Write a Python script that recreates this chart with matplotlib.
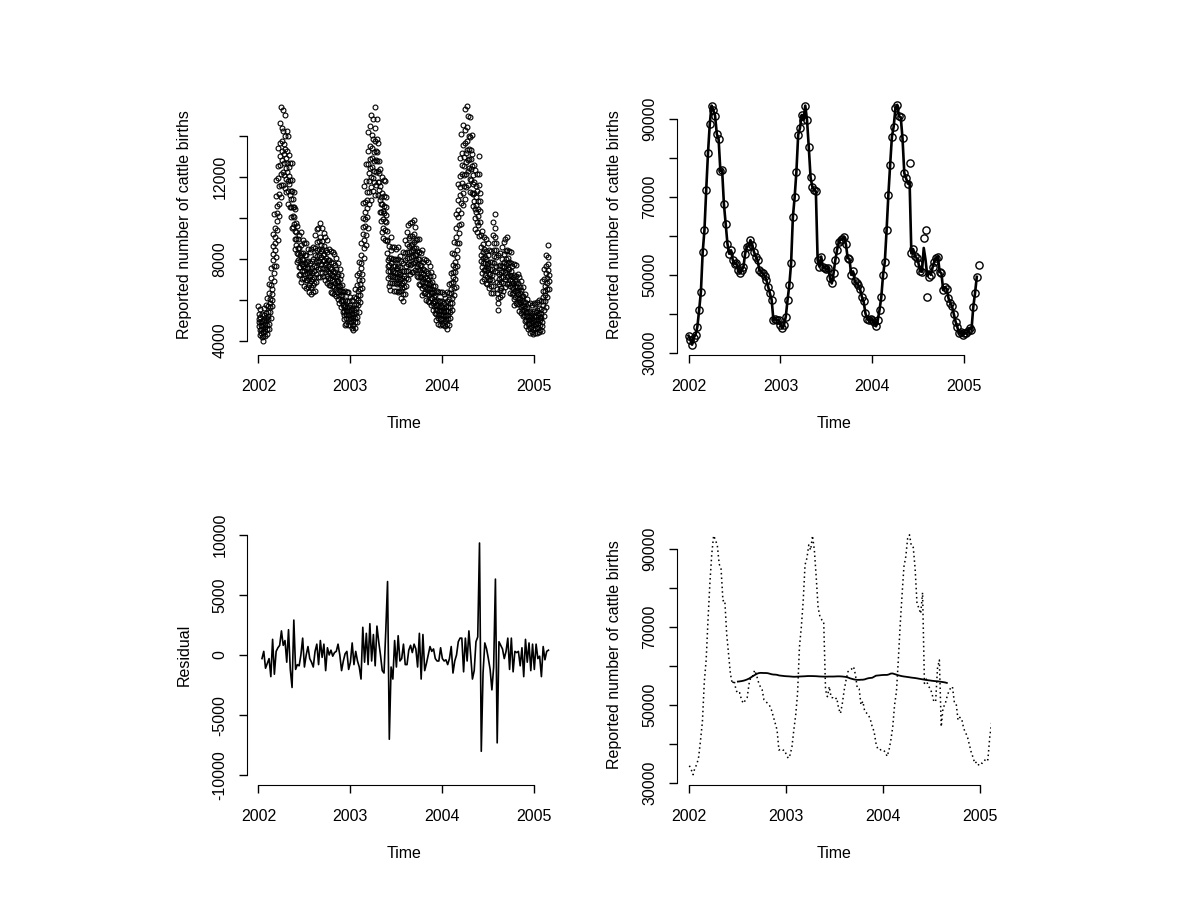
import numpy as np
import matplotlib
matplotlib.use("Agg")
import matplotlib.pyplot as plt

plt.rcParams['font.family'] = ['Liberation Sans', 'DejaVu Sans']

# weekly reported cattle births (thousands), weekly series from 2002 (freq 52)
weekly_k = [34.5, 33.5, 32.2, 34.0, 34.8, 36.8, 41.1, 45.8, 55.9, 61.6,
            71.9, 81.3, 88.7, 93.5, 92.4, 90.9, 86.2, 84.9, 76.8, 76.9,
            68.3, 63.2, 58.1, 55.5, 56.4, 53.9, 53.0, 53.2, 51.3, 50.5,
            51.3, 52.0, 55.5, 57.3, 57.5, 59.0, 57.7, 56.0, 54.8, 54.0,
            51.4, 50.9, 50.5, 49.9, 48.8, 47.1, 45.4, 43.7, 38.5, 38.8,
            38.5, 38.5, 37.3, 36.4, 37.3, 39.4, 43.7, 47.5, 53.1, 64.9,
            70.0, 76.6, 86.0, 87.7, 91.1, 89.8, 93.5, 89.8, 82.8, 75.1,
            72.7, 71.9, 71.5, 53.9, 52.2, 54.8, 52.0, 51.9, 51.5, 51.9,
            49.2, 47.9, 50.5, 53.9, 56.5, 58.6, 59.1, 59.3, 59.9, 57.9,
            54.4, 54.2, 50.1, 51.0, 48.4, 48.0, 47.5, 46.4, 44.5, 43.3,
            40.3, 38.8, 38.5, 38.7, 38.5, 38.0, 36.9, 38.5, 41.1, 44.4,
            50.1, 53.5, 61.6, 70.6, 78.3, 85.5, 88.1, 92.8, 93.7, 90.8,
            90.5, 85.1, 76.2, 74.9, 73.5, 78.9, 55.6, 56.7, 54.9, 54.4,
            53.1, 51.0, 50.9, 59.5, 61.6, 44.5, 49.5, 50.1, 52.0, 53.5,
            54.4, 54.8, 50.9, 50.5, 46.2, 46.9, 46.5, 44.1, 43.0, 42.0,
            40.1, 38.1, 36.7, 35.1, 35.5, 34.7, 35.3, 35.1, 35.6, 36.4,
            36.0, 41.8, 45.4, 49.6, 52.6]

# fitted values differ from the observations only at a few weeks
fit_idx = [125, 133, 134, 135, 136]
fit_k = [74.0, 57.0, 54.0, 49.8, 51.0]

# share of a week's births reported on each day of the week
dow_share = [0.165, 0.154, 0.147, 0.142, 0.137, 0.131, 0.124]

# residuals (thousands), starting at week 2
resid_start = 2
resid_k = [-0.3, 0.3, -1.1, -0.7, -0.3, -1.8, 1.3, -1.6, 0.3, 0.6,
           0.8, 2.0, 0.8, 1.2, -0.6, 2.1, -1.2, -2.7, 2.9, -1.2,
           -0.8, -0.9, 0.0, 1.4, -1.0, 0.0, 0.7, -0.3, -0.6, -1.0,
           0.3, 0.9, -0.8, 1.2, -0.2, 0.9, -1.3, 0.6, 0.0, 0.4,
           -0.1, 0.2, 0.3, 0.9, 0.0, -1.3, -0.5, 0.1, 0.3, -1.2,
           -0.6, 1.0, -0.8, 0.3, -0.5, -1.0, -2.0, 2.3, -0.6, 1.8,
           -0.8, 2.6, -0.5, 1.7, -0.9, 2.4, 1.1, 0.0, -1.3, -1.5,
           2.0, 6.1, -7.0, -1.0, -2.0, 1.2, -1.0, 1.6, -0.5, -0.3,
           0.9, -0.8, -0.8, 0.4, 0.8, 0.2, 0.9, 0.5, -1.0, 1.8,
           -2.0, 1.7, -1.3, -0.7, 0.0, 0.7, 0.3, 0.5, -0.3, -0.5,
           -0.5, 0.6, -0.3, -0.5, -0.4, -0.8, -0.3, 0.7, -1.5, -0.5,
           0.0, 1.1, 1.4, 1.4, -1.4, 1.4, -0.5, 2.0, 0.0, -2.0,
           -1.3, 1.1, 1.5, 9.3, -8.0, -1.5, 1.0, 0.5, -0.3, -1.2,
           -2.9, -1.0, 6.3, -7.3, 1.1, 0.8, 0.5, -0.3, 0.3, 1.4,
           -1.2, 1.4, -1.4, 0.3, 0.2, 0.3, -0.9, 0.6, -1.8, 1.3,
           -0.6, 1.0, -1.3, 0.9, -1.2, 0.9, -0.3, -0.1, -1.8, 0.7,
           -0.4, 0.3, 0.4]

years = [2002, 2003, 2004, 2005]

# ---- derived series ----
weekly = np.array(weekly_k) * 1000
t_week = 2002 + np.arange(len(weekly)) / 52

daily = (weekly[:, None] * np.array(dow_share)[None, :]).ravel()
t_day = 2002 + np.arange(len(daily)) / 365

fitted = weekly.copy()
fitted[fit_idx] = np.array(fit_k) * 1000
fitted = fitted[:-1]

w = np.r_[0.5, np.ones(51), 0.5] / 52
trend = np.convolve(weekly, w, mode='valid')
t_trend = t_week[26:26 + len(trend)]

resid = np.array(resid_k) * 1000
t_res = 2002 + (resid_start + np.arange(len(resid))) / 52

fig = plt.figure(figsize=(12, 9), dpi=100)
FS = 11.5


def r_axes(rect, xlim, ylim, yticks, shown, ylabel):
    ax = fig.add_axes(rect)
    ax.set_xlim(xlim)
    ax.set_ylim(ylim)
    for s in ['top', 'right']:
        ax.spines[s].set_visible(False)
    ax.spines['left'].set_bounds(yticks[0], yticks[-1])
    ax.spines['bottom'].set_bounds(years[0], years[-1])
    ax.set_yticks(yticks)
    ax.set_yticklabels([str(v) if v in shown else '' for v in yticks],
                       rotation=90, va='center')
    ax.set_xticks(years)
    ax.set_xticklabels([str(y) for y in years])
    ax.tick_params(direction='out', length=6, width=1, labelsize=FS)
    ax.tick_params(axis='x', pad=11.5)
    ax.tick_params(axis='y', pad=8)
    ax.set_xlabel('Time', fontsize=FS)
    ax.xaxis.set_label_coords(0.5, -0.235)
    ax.set_ylabel(ylabel, fontsize=FS)
    ax.yaxis.set_label_coords(-0.175, 0.5)
    return ax


ylab = 'Reported number of cattle births'
W, H = 0.2617, 0.2889

# daily counts
ax1 = r_axes([0.2058, 0.6056, W, H], (2001.875, 2005.29), (3300, 16000),
             [4000, 6000, 8000, 10000, 12000, 14000], [4000, 8000, 12000], ylab)
ax1.plot(t_day, daily, 'o', mfc='none', mec='black', ms=3.5, mew=0.8)

# weekly counts with fit
ax2 = r_axes([0.5642, 0.6056, W, H], (2001.875, 2005.29), (29560, 96230),
             [30000, 40000, 50000, 60000, 70000, 80000, 90000],
             [30000, 50000, 70000, 90000], ylab)
ax2.plot(t_week, weekly, 'o', mfc='none', mec='black', ms=5.2, mew=1.0)
ax2.plot(t_week[:len(fitted)], fitted, '-', color='black', lw=1.9)

# residuals
ax3 = r_axes([0.2058, 0.1278, W, H], (2001.875, 2005.29), (-10800, 10800),
             [-10000, -5000, 0, 5000, 10000],
             [-10000, -5000, 0, 5000, 10000], 'Residual')
ax3.plot(t_res, resid, '-', color='black', lw=1.2)

# weekly counts with trend
ax4 = r_axes([0.5642, 0.1278, W, H], (2001.873, 2005.11), (29560, 96230),
             [30000, 40000, 50000, 60000, 70000, 80000, 90000],
             [30000, 50000, 70000, 90000], ylab)
ax4.plot(t_week, weekly, linestyle=(0, (1, 2)), color='black', lw=1.1)
ax4.plot(t_trend, trend, '-', color='black', lw=1.3)

fig.savefig('out.png', dpi=100)
